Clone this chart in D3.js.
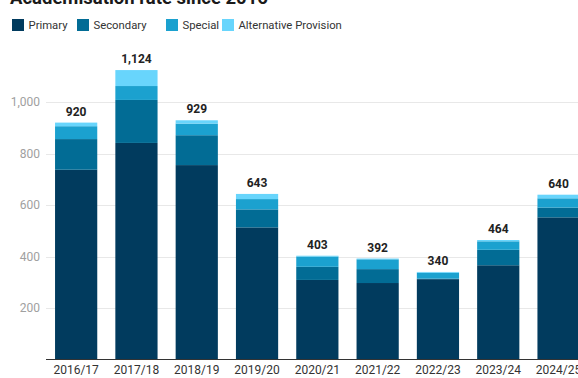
<!DOCTYPE html>
<html>
<head>
<meta charset="utf-8">
<script src="https://cdn.jsdelivr.net/npm/d3@7"></script>
<style>
  html, body { margin: 0; padding: 0; background: #fff; overflow: hidden; }
  svg { display: block; font-family: Roboto, "Noto Sans", sans-serif; }
</style>
</head>
<body>
<svg id="chart" width="578" height="378"></svg>
<script>
// Academies opened per year, split by school phase
const years = ["2016/17", "2017/18", "2018/19", "2019/20", "2020/21", "2021/22", "2022/23", "2023/24", "2024/25"];
const primary     = [737, 841, 755, 513, 309, 297, 312, 366, 552];
const secondary   = [119, 167, 116,  70,  51,  54,   2,  60,  38];
const special     = [ 50,  54,  45,  40,  40,  38,  23,  33,  36];
const altProvision = [14,  62,  13,  20,   3,   3,   3,   5,  14];
const yTicks = [200, 400, 600, 800, 1000];

const seriesNames = ["Primary", "Secondary", "Special", "Alternative Provision"];
const seriesColors = ["#013b5e", "#026c95", "#1ba1cf", "#68d5fc"];

const rows = years.map((yr, i) => ({
  year: yr,
  "Primary": primary[i],
  "Secondary": secondary[i],
  "Special": special[i],
  "Alternative Provision": altProvision[i]
}));
const totals = rows.map(r => seriesNames.reduce((s, k) => s + r[k], 0));

const svg = d3.select("#chart");

// Title (sits partly above the visible area)
svg.append("text")
  .attr("x", 10).attr("y", 4)
  .attr("font-size", 18.5).attr("font-weight", 700).attr("fill", "#1a1a1a")
  .text("Academisation rate since 2016");

// Legend
const legend = svg.append("g");
const legendX = [12, 77, 166, 222];
seriesNames.forEach((name, i) => {
  const g = legend.append("g").attr("transform", `translate(${legendX[i]},19)`);
  g.append("rect").attr("width", 12).attr("height", 12).attr("fill", seriesColors[i]);
  g.append("text").attr("x", 16.5).attr("y", 10.3)
    .attr("font-size", 11.3).attr("fill", "#333").text(name);
});

// Scales
const x = d3.scaleBand().domain(years).range([46, 588.7]).paddingInner(0.3).paddingOuter(0.15);
const y = d3.scaleLinear().domain([0, 1000]).range([359.5, 102]);

// Grid lines and y labels
const grid = svg.append("g");
yTicks.forEach(t => {
  grid.append("line")
    .attr("x1", 46).attr("x2", 578)
    .attr("y1", Math.round(y(t)) + 0.5).attr("y2", Math.round(y(t)) + 0.5)
    .attr("stroke", "#e8e8e8").attr("stroke-width", 1);
});
svg.append("g")
  .attr("transform", "translate(46,0)")
  .call(d3.axisLeft(y).tickValues(yTicks).tickSize(0).tickPadding(6).tickFormat(d3.format(",")))
  .call(g => g.select(".domain").remove())
  .call(g => g.selectAll("text").attr("font-size", 12).attr("fill", "#a0a0a0").attr("font-family", "Roboto, sans-serif"));

// Stacked bars
const stack = d3.stack().keys(seriesNames)(rows);
svg.append("g").selectAll("g")
  .data(stack).join("g")
  .attr("fill", (d, i) => seriesColors[i])
  .selectAll("rect")
  .data(d => d).join("rect")
  .attr("x", d => x(d.data.year))
  .attr("width", x.bandwidth())
  .attr("y", d => y(d[1]))
  .attr("height", d => Math.max(0, y(d[0]) - y(d[1])));

// Total labels
svg.append("g").selectAll("text")
  .data(rows).join("text")
  .attr("x", d => x(d.year) + x.bandwidth() / 2)
  .attr("y", (d, i) => y(totals[i]) - 7)
  .attr("text-anchor", "middle")
  .attr("font-size", 12).attr("font-weight", 700).attr("fill", "#222")
  .text((d, i) => d3.format(",")(totals[i]));

// Baseline and x axis labels
svg.append("line")
  .attr("x1", 46).attr("x2", 578).attr("y1", 359.5).attr("y2", 359.5)
  .attr("stroke", "#333").attr("stroke-width", 1);
svg.append("g")
  .attr("transform", "translate(0,359.5)")
  .call(d3.axisBottom(x).tickSize(0).tickPadding(6))
  .call(g => g.select(".domain").remove())
  .call(g => g.selectAll("text").attr("font-size", 12).attr("fill", "#333").attr("font-family", "Roboto, sans-serif"));
</script>
</body>
</html>
